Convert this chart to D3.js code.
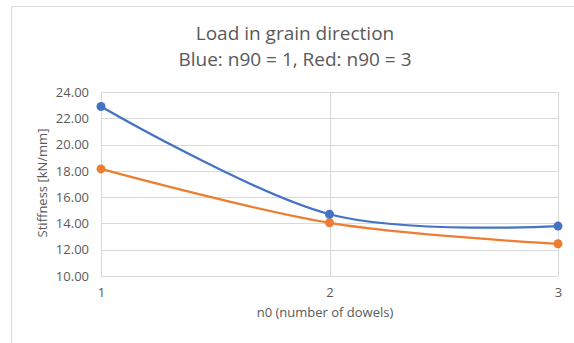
<!DOCTYPE html>
<html>
<head>
<meta charset="utf-8">
<script src="https://cdn.jsdelivr.net/npm/d3@7"></script>
<style>
  html, body { margin: 0; padding: 0; background: #fff; }
  svg { display: block; font-family: "Open Sans", "Liberation Sans", sans-serif; }
</style>
</head>
<body>
<svg id="chart" width="574" height="343"></svg>
<script>
// Number of dowels in grain direction
const categories = [1, 2, 3];
// Stiffness [kN/mm] for n90 = 1 (blue) and n90 = 3 (red/orange)
const seriesN90_1 = [22.9, 14.7, 13.8];
const seriesN90_3 = [18.15, 14.05, 12.45];
const yTicks = [10, 12, 14, 16, 18, 20, 22, 24];

const titleLines = ["Load in grain direction", "Blue: n90 = 1, Red: n90 = 3"];
const xTitle = "n0 (number of dowels)";
const yTitle = "Stiffness [kN/mm]";

const svg = d3.select("#chart");
const plot = { left: 101, right: 558, top: 92, bottom: 276 };
const textColor = "#595959";
const gridColor = "#D9D9D9";

// Outer chart frame (only left and top edges fall inside the view)
svg.append("rect")
  .attr("x", 11.5).attr("y", 6.5)
  .attr("width", 600).attr("height", 400)
  .attr("fill", "none").attr("stroke", "#D9D9D9").attr("stroke-width", 1);

const x = d3.scaleLinear().domain([1, 3]).range([plot.left, plot.right]);
const y = d3.scaleLinear().domain([10, 24]).range([plot.bottom, plot.top]);

// Horizontal gridlines
svg.append("g").selectAll("line").data(yTicks).join("line")
  .attr("x1", plot.left).attr("x2", plot.right)
  .attr("y1", d => Math.round(y(d)) + 0.5).attr("y2", d => Math.round(y(d)) + 0.5)
  .attr("stroke", gridColor).attr("stroke-width", 1);

// Vertical gridlines at each category
svg.append("g").selectAll("line").data(categories).join("line")
  .attr("x1", d => Math.round(x(d)) + 0.5).attr("x2", d => Math.round(x(d)) + 0.5)
  .attr("y1", plot.top).attr("y2", plot.bottom)
  .attr("stroke", gridColor).attr("stroke-width", 1);

// Y axis tick labels
const yAxis = d3.axisLeft(y).tickValues(yTicks).tickFormat(d3.format(".2f")).tickSize(0).tickPadding(12);
const gy = svg.append("g").attr("transform", `translate(${plot.left},0)`).call(yAxis);
gy.select(".domain").remove();
gy.selectAll("text").attr("fill", textColor).style("font-size", "13px")
  .style("font-family", "'Open Sans', sans-serif");

// X axis tick labels
const xAxis = d3.axisBottom(x).tickValues(categories).tickFormat(d3.format("d")).tickSize(0).tickPadding(12);
const gx = svg.append("g").attr("transform", `translate(0,${plot.bottom})`).call(xAxis);
gx.select(".domain").remove();
gx.selectAll("text").attr("fill", textColor).style("font-size", "13px")
  .style("font-family", "'Open Sans', sans-serif");

// Titles
svg.append("g").selectAll("text").data(titleLines).join("text")
  .attr("x", 295).attr("y", (d, i) => 40 + i * 26)
  .attr("text-anchor", "middle").attr("fill", textColor)
  .style("font-size", "19px").text(d => d);

svg.append("text")
  .attr("x", 325).attr("y", 317)
  .attr("text-anchor", "middle").attr("fill", textColor)
  .style("font-size", "13px").text(xTitle);

svg.append("text")
  .attr("transform", "translate(47,183) rotate(-90)")
  .attr("text-anchor", "middle").attr("fill", textColor)
  .style("font-size", "13px").text(yTitle);

// Smoothed series lines with markers
const series = [
  { values: seriesN90_1, color: "#4472C4" },
  { values: seriesN90_3, color: "#ED7D31" }
];
const line = d3.line()
  .x((d, i) => x(categories[i]))
  .y(d => y(d))
  .curve(d3.curveCardinal.tension(0));

series.slice().reverse().forEach(s => {
  svg.append("path").datum(s.values)
    .attr("d", line)
    .attr("fill", "none").attr("stroke", s.color)
    .attr("stroke-width", 2.25).attr("stroke-linecap", "round");
  svg.append("g").selectAll("circle").data(s.values).join("circle")
    .attr("cx", (d, i) => x(categories[i])).attr("cy", d => y(d))
    .attr("r", 4.5).attr("fill", s.color);
});
</script>
</body>
</html>
